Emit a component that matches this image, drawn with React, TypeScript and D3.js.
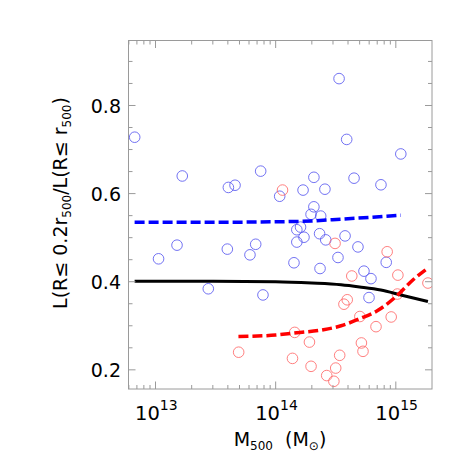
import React from 'react';
import * as d3 from 'd3';

// Blue sample: M500 (Msun) and luminosity ratio
const blueMass = [
  6.71e12, 1.67e13, 4.04e13, 4.59e13, 1.06e13, 1.51e13, 3.96e13, 2.75e13, 7.5e13, 1.08e14,
  6.82e13, 6.11e13, 7.84e13, 3.37e14, 3.9e14, 1.1e15, 1.69e14, 2.57e14, 2.08e14, 4.49e14,
  7.52e14, 2.08e14, 1.97e14, 2.37e14, 1.5e14, 1.61e14, 1.5e14, 1.72e14, 2.32e14, 2.61e14,
  3.78e14, 4.84e14, 1.42e14, 3.3e14, 2.34e14, 5.43e14, 6.21e14, 8.32e14, 5.98e14,
];
const blueRatio = [
  0.728, 0.64, 0.614, 0.619, 0.452, 0.483, 0.474, 0.384, 0.651, 0.594,
  0.485, 0.461, 0.37, 0.861, 0.723, 0.69, 0.608, 0.61, 0.637, 0.635,
  0.62, 0.57, 0.553, 0.549, 0.518, 0.524, 0.49, 0.501, 0.509, 0.495,
  0.504, 0.479, 0.443, 0.455, 0.43, 0.424, 0.407, 0.444, 0.364,
];

// Red sample
const redMass = [
  1.14e14, 3.12e14, 8.47e14, 4.3e14, 1.04e15, 1.85e15, 1.03e15, 3.94e14, 3.7e14, 5.02e14,
  9.15e14, 6.84e14, 1.44e14, 1.91e14, 5.17e14, 5.33e14, 3.41e14, 1.38e14, 1.97e14, 3.16e14,
  2.66e14, 3.05e14, 4.92e13,
];
const redRatio = [
  0.608, 0.487, 0.468, 0.413, 0.415, 0.397, 0.372, 0.359, 0.349, 0.321,
  0.32, 0.298, 0.285, 0.263, 0.261, 0.242, 0.233, 0.226, 0.208, 0.204,
  0.187, 0.174, 0.24,
];

// Fitted relations
const blueFitMass = [6.7e12, 3e13, 1e14, 2e14, 3.5e14, 6e14, 1.1e15];
const blueFitRatio = [0.535, 0.535, 0.536, 0.538, 0.542, 0.546, 0.551];

const allFitMass = [6.7e12, 3e13, 1e14, 2e14, 3.5e14, 5e14, 7.5e14, 1.1e15, 1.85e15];
const allFitRatio = [0.401, 0.401, 0.4, 0.397, 0.393, 0.388, 0.381, 0.37, 0.355];

const redFitMass = [4.9e13, 1e14, 1.5e14, 2.5e14, 3.5e14, 5e14, 7e14, 1e15, 1.4e15, 1.85e15];
const redFitRatio = [0.2755, 0.279, 0.284, 0.291, 0.3, 0.316, 0.334, 0.366, 0.405, 0.431];

const xMajorTicks = [1e13, 1e14, 1e15];
const xTickExponents = ['13', '14', '15'];
const yMajorTicks = [0.2, 0.4, 0.6, 0.8];

const W = 471;
const H = 471;
const left = 128.5;
const right = 432;
const top = 40.5;
const bottom = 389;
const font = '"DejaVu Sans", Verdana, sans-serif';
const axisColor = '#9a9a9a';

const App = () => {
  const x = d3.scaleLog().domain([5.96e12, 2.0e15]).range([left, right]);
  const y = d3.scaleLinear().domain([0.1565, 0.9475]).range([bottom, top]);

  const xMinor: number[] = [];
  for (let e = 12; e <= 15; e++) {
    for (let m = 2; m <= 9; m++) {
      const v = m * Math.pow(10, e);
      if (v > 5.96e12 && v < 2.0e15) xMinor.push(v);
    }
  }
  const yMinor = d3.range(0.2, 0.95, 0.05).filter(v => Math.abs(Math.round(v * 5) - v * 5) > 1e-6);

  const line = d3.line<[number, number]>()
    .x(d => x(d[0]))
    .y(d => y(d[1]))
    .curve(d3.curveMonotoneX);

  const pairs = (a: number[], b: number[]) => a.map((v, i) => [v, b[i]] as [number, number]);

  return (
    <svg width={W} height={H} style={{ position: 'absolute', left: 0, top: 0, background: '#fff' }}>
      <defs>
        <clipPath id="plot">
          <rect x={left} y={top} width={right - left} height={bottom - top} />
        </clipPath>
      </defs>

      <g clipPath="url(#plot)">
        {blueMass.map((m, i) => (
          <circle key={'b' + i} cx={x(m)} cy={y(blueRatio[i])} r={5.3}
            fill="none" stroke="#5a5af0" strokeWidth={1} strokeOpacity={0.85} />
        ))}
        {redMass.map((m, i) => (
          <circle key={'r' + i} cx={x(m)} cy={y(redRatio[i])} r={5.3}
            fill="none" stroke="#ff6a6a" strokeWidth={1} strokeOpacity={0.85} />
        ))}
        <path d={line(pairs(blueFitMass, blueFitRatio)) || ''} fill="none" stroke="#0000ff"
          strokeWidth={3.5} strokeDasharray="10,4" />
        <path d={line(pairs(allFitMass, allFitRatio)) || ''} fill="none" stroke="#000"
          strokeWidth={3} />
        <path d={line(pairs(redFitMass, redFitRatio)) || ''} fill="none" stroke="#ff0000"
          strokeWidth={3.5} strokeDasharray="10,4" />
      </g>

      {/* frame */}
      <rect x={left} y={top} width={right - left} height={bottom - top} fill="none"
        stroke={axisColor} strokeWidth={1} />

      {/* x ticks */}
      {xMajorTicks.map(v => (
        <g key={'xm' + v}>
          <line x1={x(v)} x2={x(v)} y1={bottom} y2={bottom - 7.5} stroke={axisColor} />
          <line x1={x(v)} x2={x(v)} y1={top} y2={top + 7.5} stroke={axisColor} />
        </g>
      ))}
      {xMinor.map(v => (
        <g key={'xn' + v}>
          <line x1={x(v)} x2={x(v)} y1={bottom} y2={bottom - 4} stroke={axisColor} />
          <line x1={x(v)} x2={x(v)} y1={top} y2={top + 4} stroke={axisColor} />
        </g>
      ))}

      {/* y ticks */}
      {yMajorTicks.map(v => (
        <g key={'ym' + v}>
          <line x1={left} x2={left + 7} y1={y(v)} y2={y(v)} stroke={axisColor} />
          <line x1={right} x2={right - 7} y1={y(v)} y2={y(v)} stroke={axisColor} />
        </g>
      ))}
      {yMinor.map(v => (
        <g key={'yn' + v}>
          <line x1={left} x2={left + 4} y1={y(v)} y2={y(v)} stroke={axisColor} />
          <line x1={right} x2={right - 4} y1={y(v)} y2={y(v)} stroke={axisColor} />
        </g>
      ))}

      {/* tick labels */}
      {yMajorTicks.map(v => (
        <text key={'yl' + v} x={121} y={y(v) + 7.5} textAnchor="end" fontFamily={font}
          fontSize={19} fill="#000">{v.toFixed(1)}</text>
      ))}
      {xMajorTicks.map((v, i) => (
        <text key={'xl' + v} x={x(v) - 20.5} y={420} textAnchor="start" fontFamily={font}
          fontSize={19.5} fill="#000">
          10<tspan fontSize={14} dy={-10}>{xTickExponents[i]}</tspan>
        </text>
      ))}

      {/* axis titles */}
      <text x={280} y={446} textAnchor="middle" fontFamily={font} fontSize={19} fill="#000">
        M<tspan fontSize={12} dy={4}>500</tspan>
        <tspan dy={-4}>{'\u00a0\u00a0(M'}</tspan>
        <tspan fontSize={12} dy={4}>{'\u2299'}</tspan>
        <tspan dy={-4}>)</tspan>
      </text>
      <text transform="translate(67,203) rotate(-90)" textAnchor="middle" fontFamily={font}
        fontSize={19} fill="#000">
        L(R≤ 0.2r<tspan fontSize={12} dy={4}>500</tspan>
        <tspan dy={-4}>/L(R≤ r</tspan>
        <tspan fontSize={12} dy={4}>500</tspan>
        <tspan dy={-4}>)</tspan>
      </text>
    </svg>
  );
};

export default App;
